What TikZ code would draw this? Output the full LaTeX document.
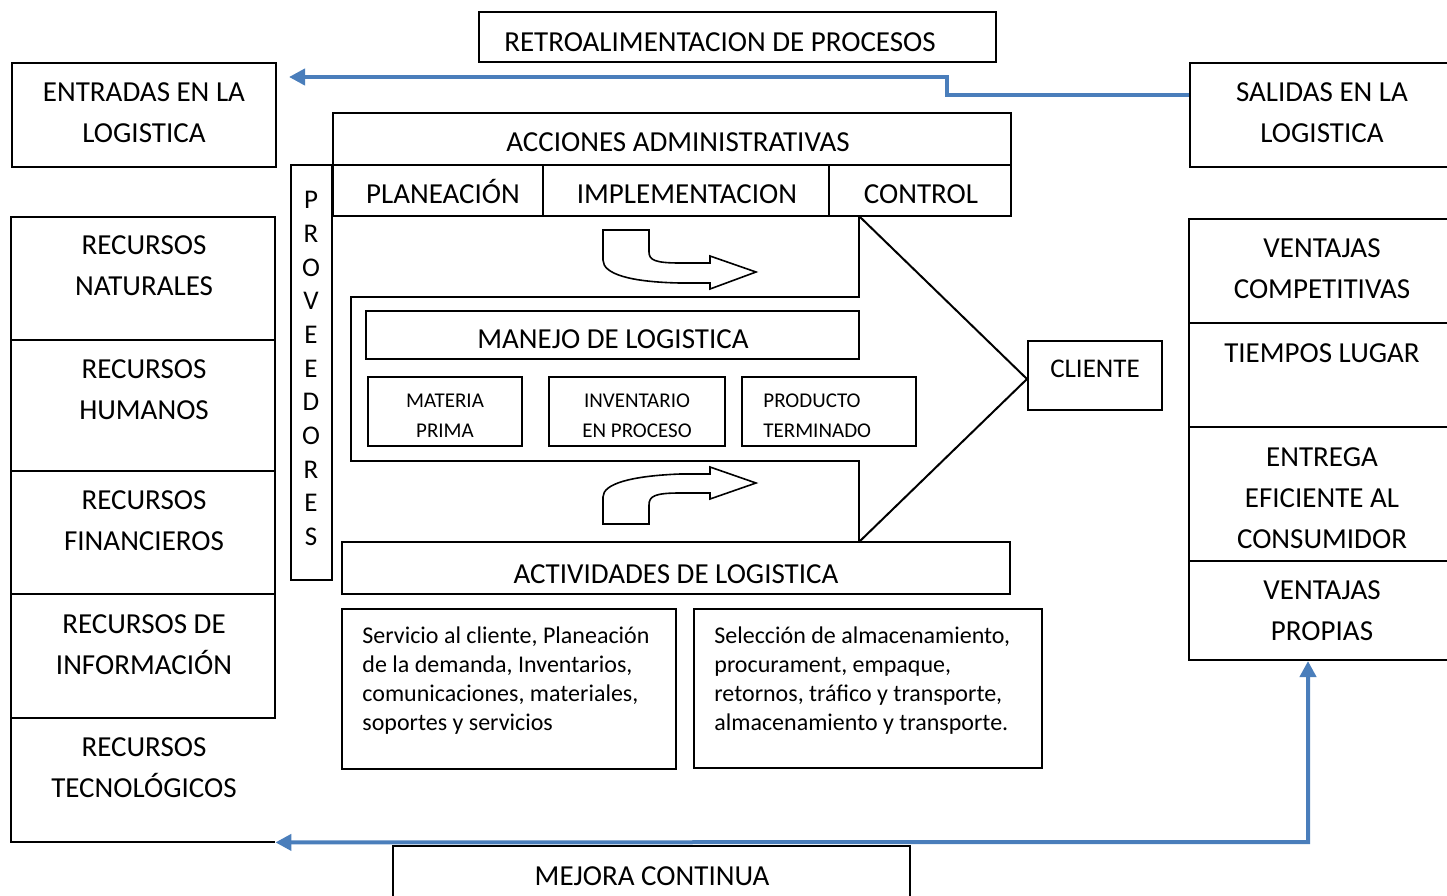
\documentclass[tikz,border=0pt]{standalone}
\usepackage{fontspec}
\setmainfont{Carlito}
\usetikzlibrary{fit,arrows.meta}
\definecolor{flowblue}{RGB}{74,126,187}

\begin{document}
\begin{tikzpicture}[x=0.5pt, y=-0.5pt,
    box/.style={draw, line width=1pt, inner sep=0pt},
    big/.style={font=\fontsize{14.5}{20.5}\selectfont, align=center, inner sep=0pt},
    small/.style={font=\fontsize{10.5}{15}\selectfont, align=center, inner sep=0pt},
    para/.style={font=\fontsize{12}{14.5}\selectfont, align=left, anchor=north west, inner sep=0pt},
    feed/.style={draw=flowblue, line width=2pt},
    turn/.style={draw, fill=white, line width=0.8pt}]

  \useasboundingbox (0,0) rectangle (1447,895);

  % Feedback title
  \node[box, fit={(479,12) (996,62)}] (retro) {};
  \node[big] (retro-t) at (720,42) {RETROALIMENTACION DE PROCESOS};

  % Inputs and outputs
  \node[box, fit={(12,63) (276,167)}] (entradas) {};
  \node[big] (entradas-t) at (144,113) {ENTRADAS EN LA\\LOGISTICA};
  \node[box, fit={(1190,63) (1452,167)}] (salidas) {};
  \node[big] (salidas-t) at (1322,113) {SALIDAS EN LA\\LOGISTICA};

  % Resources
  \foreach \nm/\ya/\yb/\ty/\txt in {
      nat/217/340/266/{RECURSOS\\NATURALES},
      hum/340/471/390/{RECURSOS\\HUMANOS},
      fin/471/594/521/{RECURSOS\\FINANCIEROS},
      inf/594/718/645/{RECURSOS DE\\INFORMACIÓN}}
  {
    \node[box, fit={(11,\ya) (275,\yb)}] (\nm) {};
    \node[big] (\nm-t) at (144,\ty) {\txt};
  }
  \node[fit={(11,718) (275,842)}, inner sep=0pt] (tec) {};
  \draw[line width=1pt] (tec.north west) -- (tec.south west) -- (tec.south east);
  \node[big] (tec-t) at (144,768) {RECURSOS\\TECNOLÓGICOS};

  % Suppliers
  \node[box, fit={(291,165) (332,580)}] (prov) {};
  \foreach \l [count=\i] in {P,R,O,V,E,E,D,O,R,E,S}
    \node[font=\fontsize{13.5}{16}\selectfont, inner sep=0pt]
      (prov-\i) at (311,{200+(\i-1)*33.7}) {\l};

  % Administrative actions
  \node[box, fit={(333,113) (1011,165)}] (acciones) {};
  \node[big] (acciones-t) at (678,142) {ACCIONES ADMINISTRATIVAS};
  \node[box, fit={(333,165) (543,216)}] (plan) {};
  \node[big] (plan-t) at (443,191) {PLANEACIÓN};
  \node[box, fit={(543,165) (829,216)}] (impl) {};
  \node[big] (impl-t) at (687,194) {IMPLEMENTACION};
  \node[box, fit={(829,165) (1011,216)}] (ctrl) {};
  \node[big] (ctrl-t) at (921,194) {CONTROL};

  % Big arrow
  \coordinate (tip) at (1027,379);
  \draw[line width=1pt] (859,216) -- (859,297) -- (351,297) -- (351,461)
    -- (859,461) -- (859,542);
  \draw[line width=1pt] (859,216) -- (tip) -- (859,542);

  % Logistics management
  \node[box, fit={(366,311) (859,359)}] (manejo) {};
  \node[big] (manejo-t) at (613,339) {MANEJO DE LOGISTICA};
  \node[box, fit={(368,377) (522,446)}] (materia) {};
  \node[small] (materia-t) at (445,416) {MATERIA\\PRIMA};
  \node[box, fit={(549,377) (725,446)}] (invent) {};
  \node[small] (invent-t) at (637,416) {INVENTARIO\\EN PROCESO};
  \node[box, fit={(742,377) (916,446)}] (producto) {};
  \node[small, align=left, anchor=west] (producto-t) at (763,416) {PRODUCTO\\TERMINADO};

  % Turning arrows
  \draw[turn] (603,230) -- (649,230) -- (649,252)
    .. controls (649,260) and (655,263) .. (680,263) -- (710,263) -- (710,256)
    -- (756,272) -- (710,289) -- (710,283) -- (680,283)
    .. controls (630,282) and (603,274) .. (603,260) -- cycle;
  \draw[turn] (603,524) -- (649,524) -- (649,505)
    .. controls (649,496) and (655,493) .. (680,493) -- (710,493) -- (710,499)
    -- (756,483) -- (710,467) -- (710,474) -- (680,474)
    .. controls (630,476) and (603,484) .. (603,497) -- cycle;

  % Client
  \node[box, fit={(1028,341) (1162,410)}] (cliente) {};
  \node[big, font=\fontsize{13.5}{16}\selectfont] (cliente-t) at (1095,369) {CLIENTE};

  % Logistics activities
  \node[box, fit={(342,542) (1010,594)}] (activ) {};
  \node[big] (activ-t) at (676,574) {ACTIVIDADES DE LOGISTICA};
  \node[box, fit={(342,609) (676,769)}] (actA) {};
  \node[para] (actA-t) at (362,626) {Servicio al cliente, Planeación\\de la demanda, Inventarios,\\comunicaciones, materiales,\\soportes y servicios};
  \node[box, fit={(694,609) (1042,768)}] (actB) {};
  \node[para] (actB-t) at (714,626) {Selección de almacenamiento,\\procurament, empaque,\\retornos, tráfico y transporte,\\almacenamiento y transporte.};

  % Advantages
  \node[box, fit={(1189,219) (1452,323)}] (compet) {};
  \node[big] (compet-t) at (1322,269) {VENTAJAS\\COMPETITIVAS};
  \node[box, fit={(1189,323) (1452,427)}] (tiempos) {};
  \node[big] (tiempos-t) at (1322,353) {TIEMPOS LUGAR};
  \node[box, fit={(1189,427) (1452,561)}] (entrega) {};
  \node[big] (entrega-t) at (1322,498) {ENTREGA\\EFICIENTE AL\\CONSUMIDOR};
  \node[box, fit={(1189,561) (1452,660)}] (propias) {};
  \node[big] (propias-t) at (1322,611) {VENTAJAS\\PROPIAS};

  % Continuous improvement
  \node[box, fit={(393,846) (910,902)}] (mejora) {};
  \node[big] (mejora-t) at (652,876) {MEJORA CONTINUA};

  % Feedback loops
  \coordinate (fbA) at (947,95);
  \coordinate (fbB) at (947,77);
  \draw[feed, -{Triangle[length=8pt,width=8pt]}, shorten >=6pt]
    (salidas.west |- fbA) -- (fbA) -- (fbB) -- (entradas.east |- fbB);
  \coordinate (mc) at (1308,842);
  \draw[feed, {Triangle[length=8pt,width=8pt]}-{Triangle[length=8pt,width=8pt]}]
    (propias.south -| mc) -- (mc) -- (tec.south east);

\end{tikzpicture}
\end{document}
